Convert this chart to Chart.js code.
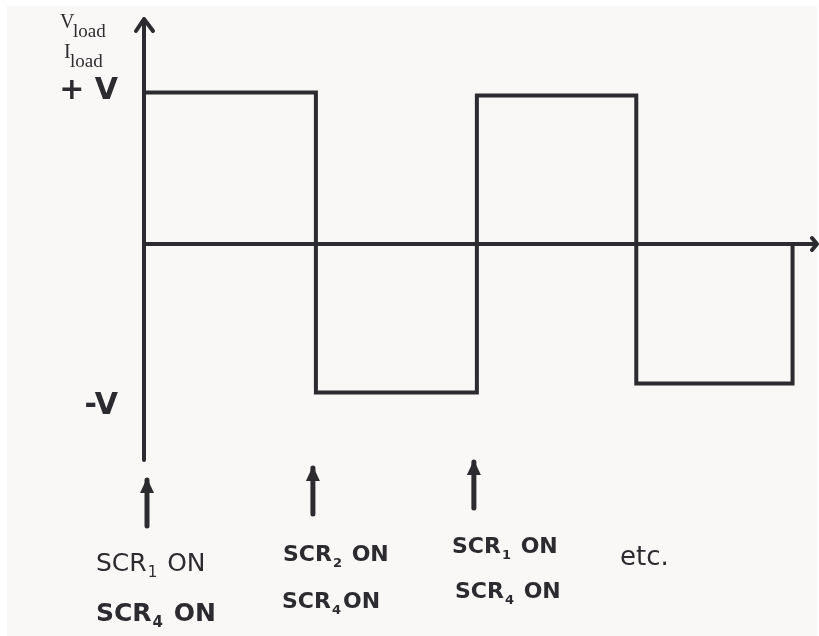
<!DOCTYPE html>
<html>
<head>
<meta charset="utf-8">
<script src="https://cdn.jsdelivr.net/npm/chart.js@4"></script>
<style>
  html, body { margin: 0; padding: 0; background: #ffffff; }
  #wrap { position: absolute; left: 0; top: 0; width: 819px; height: 636px; }
  #paper { position: absolute; left: 7px; top: 6px; width: 810px; height: 630px; background: #f9f8f6; }
</style>
</head>
<body>
<div id="wrap">
  <div id="paper"></div>
  <canvas id="chartOnda" width="819" height="636" style="position:absolute;left:0;top:0;width:819px;height:636px"></canvas>
</div>
<script>
// Instantes de conmutación (eje t) y niveles de la carga entre ellos
const switchTimes = [0, 1.10, 2.13, 3.15, 4.15];
const loadLevels = [1.01, -0.99, 0.99, -0.93];
const yTicks = [1, -1];
const yTickLabels = ['+ V', '-V'];
const switchLabels = [
    [['SCR', '1', ' ON'], ['SCR', '4', ' ON']],
    [['SCR', '2', ' ON'], ['SCR', '4', 'ON']],
    [['SCR', '1', ' ON'], ['SCR', '4', ' ON']]
];

const INK = '#2c2c30';

// Onda cuadrada construida a partir de los arrays
const wave = [];
loadLevels.forEach((lvl, i) => {
    wave.push({ x: switchTimes[i], y: lvl });
    wave.push({ x: switchTimes[i + 1], y: lvl });
});
wave.push({ x: switchTimes[switchTimes.length - 1], y: 0 });

function textoSub(ctx, parts, x, y, size, weight) {
    const f = (s) => `${weight} ${s}px "DejaVu Sans", sans-serif`;
    ctx.font = f(size);
    ctx.fillText(parts[0], x, y);
    x += ctx.measureText(parts[0]).width;
    ctx.font = f(Math.round(size * 0.6));
    ctx.fillText(parts[1], x + 1, y + size * 0.25);
    x += ctx.measureText(parts[1]).width + 3;
    ctx.font = f(size);
    ctx.fillText(parts[2], x, y);
}

const ejesPlugin = {
    id: 'ejes',
    afterDatasetsDraw(chart) {
        const ctx = chart.ctx;
        const xs = chart.scales.x, ys = chart.scales.y;
        const x0 = xs.getPixelForValue(0);
        const y0 = ys.getPixelForValue(0);
        const area = chart.chartArea;
        ctx.save();
        ctx.strokeStyle = INK;
        ctx.fillStyle = INK;
        ctx.lineWidth = 4;
        ctx.lineCap = 'round';
        ctx.lineJoin = 'round';

        // eje vertical con flecha
        ctx.beginPath();
        ctx.moveTo(x0, area.bottom);
        ctx.lineTo(x0, area.top - 3);
        ctx.moveTo(x0 - 8, area.top + 9);
        ctx.lineTo(x0, area.top - 3);
        ctx.lineTo(x0 + 9, area.top + 9);
        ctx.stroke();

        // eje horizontal con flecha
        ctx.beginPath();
        ctx.moveTo(x0, y0);
        ctx.lineTo(area.right + 1, y0);
        ctx.moveTo(area.right - 4, y0 - 6);
        ctx.lineTo(area.right + 1, y0);
        ctx.lineTo(area.right - 4, y0 + 6);
        ctx.stroke();

        // flechas de disparo bajo el eje
        const arrowTops = [480, 468, 462];
        ctx.lineWidth = 5;
        switchTimes.slice(0, 3).forEach((t, i) => {
            const ax = xs.getPixelForValue(t) + (i === 0 ? 3 : -3);
            const top = arrowTops[i];
            ctx.beginPath();
            ctx.moveTo(ax, top + 46);
            ctx.lineTo(ax, top);
            ctx.stroke();
            ctx.beginPath();
            ctx.moveTo(ax - 7, top + 13);
            ctx.lineTo(ax, top - 2);
            ctx.lineTo(ax + 7, top + 13);
            ctx.closePath();
            ctx.fill();
        });
        ctx.lineWidth = 4;

        // etiquetas V_load / I_load
        ctx.textBaseline = 'alphabetic';
        ctx.font = '20px "Liberation Serif", serif';
        ctx.fillText('V', 60, 28);
        ctx.font = '19px "Liberation Serif", serif';
        ctx.fillText('load', 73, 37);
        ctx.font = '20px "Liberation Serif", serif';
        ctx.fillText('I', 64, 58);
        ctx.font = '19px "Liberation Serif", serif';
        ctx.fillText('load', 70, 67);

        // niveles +V / -V
        ctx.font = 'bold 30px "DejaVu Sans", sans-serif';
        ctx.textAlign = 'right';
        yTicks.forEach((v, i) => {
            const py = ys.getPixelForValue(v) + (i === 0 ? 5 : 20);
            ctx.fillText(yTickLabels[i], 118, py);
        });
        ctx.textAlign = 'left';

        // textos de los SCR
        const labelPos = [[96, 571, 96, 621], [283, 561, 282, 608], [452, 553, 455, 598]];
        switchLabels.forEach((pair, i) => {
            const p = labelPos[i];
            const s = i === 0 ? 25 : 22;
            textoSub(ctx, pair[0], p[0], p[1], s, i === 0 ? 'normal' : 'bold');
            textoSub(ctx, pair[1], p[2], p[3], s, 'bold');
        });
        ctx.font = '26px "DejaVu Sans", sans-serif';
        ctx.fillText('etc.', 620, 565);
        ctx.restore();
    }
};

new Chart(document.getElementById('chartOnda').getContext('2d'), {
    type: 'scatter',
    data: {
        datasets: [{
            label: 'Vload / Iload',
            data: wave,
            showLine: true,
            borderColor: INK,
            borderWidth: 4,
            pointRadius: 0,
            fill: false,
            tension: 0
        }]
    },
    options: {
        responsive: false,
        animation: false,
        layout: { padding: { left: 144, top: 22, right: 3, bottom: 176 } },
        plugins: { legend: { display: false }, tooltip: { enabled: false } },
        scales: {
            x: { type: 'linear', min: 0, max: 4.3, display: false },
            y: { type: 'linear', min: -1.44, max: 1.48, display: false }
        }
    },
    plugins: [ejesPlugin]
});
</script>
</body>
</html>
